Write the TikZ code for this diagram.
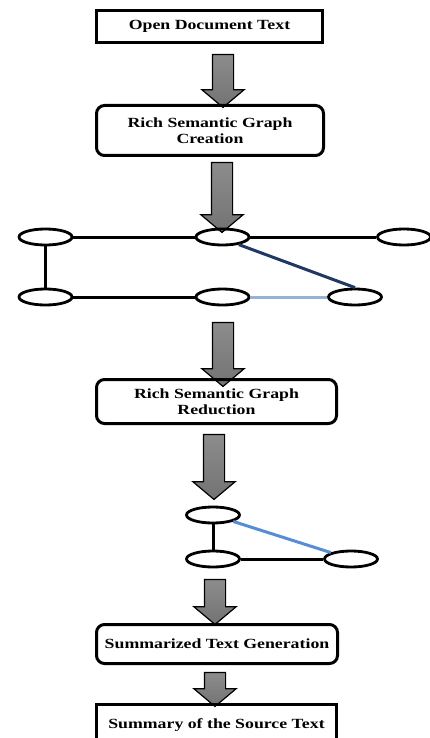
\documentclass[tikz,border=0pt]{standalone}
\usepackage{fontspec}
\newfontfamily\flowfont[FakeStretch=1.27]{Liberation Serif}
\usetikzlibrary{shapes.geometric,shapes.arrows}
\definecolor{navyedge}{RGB}{31,56,100}
\definecolor{paleedge}{RGB}{149,179,215}
\definecolor{midedge}{RGB}{85,142,213}
\tikzset{
  stagebox/.style={draw, line width=3pt, inner sep=0pt, align=center,
    font=\flowfont\bfseries\fontsize{14}{16}\selectfont},
  roundbox/.style={stagebox, rounded corners=8pt},
  vertex/.style={draw, ellipse, line width=2.8pt, minimum width=53pt, minimum height=16pt, inner sep=0pt},
  fatarrow/.style={single arrow, draw, line width=1.2pt, shape border rotate=270,
    inner xsep=10pt, inner ysep=0pt, single arrow head extend=10.5pt, single arrow tip angle=100,
    top color=black!45, middle color=black!95, bottom color=black!55},
  link/.style={line width=3pt}
}
\begin{document}
\begin{tikzpicture}[x=1pt,y=-1pt]
\useasboundingbox (0,0) rectangle (430,738);

\node[stagebox, minimum width=226pt, minimum height=32pt] (open) at (209.5,26.5) {Open Document Text};
\node[fatarrow, minimum height=53pt] (a1) at (223,76.5) {};

\node[roundbox, minimum width=227pt, minimum height=50pt] (create) at (210,130.5) {Rich Semantic Graph\\Creation};
\node[fatarrow, minimum height=70pt] (a2) at (222,193) {};

\node[vertex] (g1a) at (45.5,237) {};
\node[vertex] (g1b) at (222.5,237) {};
\node[vertex] (g1c) at (404,237) {};
\node[vertex] (g1d) at (45.5,297) {};
\node[vertex] (g1e) at (222.5,297) {};
\node[vertex] (g1f) at (355,297) {};
\path[draw,link] (g1a) -- (g1b);
\path[draw,link] (g1b) -- (g1c);
\path[draw,link] (g1a) -- (g1d);
\path[draw,link] (g1d) -- (g1e);
\path[draw=navyedge,link] (g1b.-25) -- (g1f.north);
\path[draw=paleedge,link] (g1e) -- (g1f);

\node[fatarrow, minimum height=64pt] (a3) at (223,350) {};
\node[roundbox, minimum width=240pt, minimum height=44pt] (reduce) at (216.5,401.5) {Rich Semantic Graph\\Reduction};
\node[fatarrow, minimum height=65pt] (a4) at (214,462.5) {};

\node[vertex] (g2a) at (213,515) {};
\node[vertex] (g2b) at (213,559) {};
\node[vertex] (g2c) at (351,559) {};
\path[draw,link] (g2a) -- (g2b);
\path[draw,link] (g2b) -- (g2c);
\path[draw=midedge,link] (g2a) -- (g2c);

\node[fatarrow, minimum height=45pt] (a5) at (215,597.5) {};
\node[roundbox, minimum width=241pt, minimum height=39pt] (gen) at (217,644) {Summarized Text Generation};
\node[fatarrow, minimum height=34pt] (a6) at (215,685) {};

\node[stagebox, minimum width=240pt, minimum height=42pt] (summary) at (216.5,725) {Summary of the Source Text};
\end{tikzpicture}
\end{document}
